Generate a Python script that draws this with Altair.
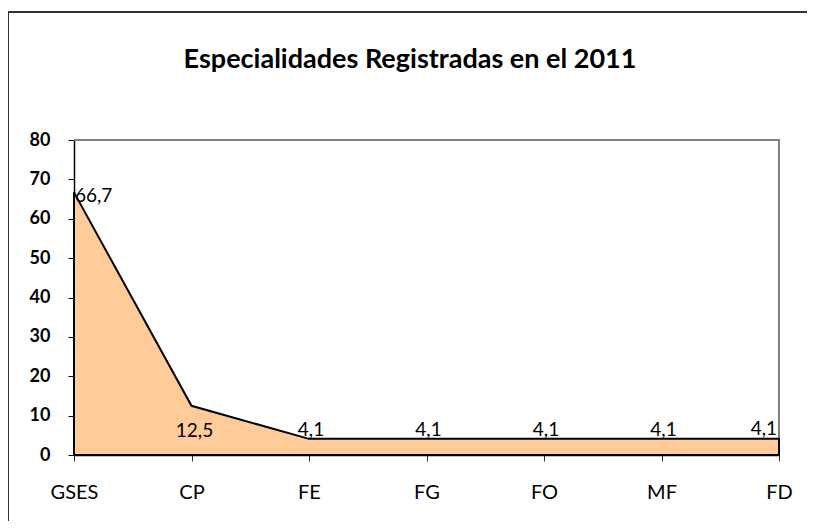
import altair as alt
import pandas as pd

categories = ["GSES", "CP", "FE", "FG", "FO", "MF", "FD"]
values = [66.7, 12.5, 4.1, 4.1, 4.1, 4.1, 4.1]
labels = ["66,7", "12,5", "4,1", "4,1", "4,1", "4,1", "4,1"]
y_ticks = [0, 10, 20, 30, 40, 50, 60, 70, 80]
title_text = "Especialidades Registradas en el 2011"

df = pd.DataFrame({"cat": categories, "val": values, "lab": labels,
                   "idx": list(range(len(categories)))})
one_df = pd.DataFrame({"t": [title_text]})

FONT = "Lato"

x_enc = alt.X("cat:N", sort=categories,
              scale=alt.Scale(type="point", padding=0),
              axis=alt.Axis(title=None, labelAngle=0, domainColor="black",
                            domainWidth=1.5, tickColor="#333", tickSize=6,
                            labelFontSize=20, labelFont=FONT, labelColor="black",
                            labelPadding=21, grid=False))
y_enc = alt.Y("val:Q", scale=alt.Scale(domain=[0, 80], nice=False),
              axis=alt.Axis(title=None, values=y_ticks, domainColor="black",
                            domainWidth=1.5, tickColor="black", tickSize=6,
                            labelFontSize=18, labelFont=FONT, labelFontWeight="bold",
                            labelColor="black", labelPadding=18, grid=False,
                            labelOverlap=False))

area = alt.Chart(df).mark_area(fill="#FFCC99", stroke="black", strokeWidth=2,
                               strokeJoin="miter").encode(x=x_enc, y=y_enc)

base = alt.Chart(df)
txt = dict(fontSize=19, font=FONT, color="black", baseline="middle")
lab_first = base.transform_filter("datum.idx == 0").mark_text(
    align="left", dx=1, dy=4, **txt).encode(x=x_enc, y=y_enc, text="lab:N")
lab_second = base.transform_filter("datum.idx == 1").mark_text(
    align="center", dx=3, dy=25, **txt).encode(x=x_enc, y=y_enc, text="lab:N")
lab_mid = base.transform_filter("datum.idx >= 2 && datum.idx <= 5").mark_text(
    align="center", dx=2, dy=-9, **txt).encode(x=x_enc, y=y_enc, text="lab:N")
lab_last = base.transform_filter("datum.idx == 6").mark_text(
    align="right", dx=-2, dy=-10, **txt).encode(x=x_enc, y=y_enc, text="lab:N")

title = alt.Chart(one_df).mark_text(
    font=FONT, fontSize=27, fontWeight="bold", color="black",
    align="center", baseline="middle").encode(
    x=alt.value(336), y=alt.value(-80), text="t:N")

border_top = alt.Chart(one_df).mark_rule(color="#808080", strokeWidth=2).encode(
    x=alt.value(0), x2=alt.value(706), y=alt.value(0))
border_right = alt.Chart(one_df).mark_rule(color="#808080", strokeWidth=2).encode(
    x=alt.value(705), y=alt.value(-1), y2=alt.value(315))

frame_top = alt.Chart(one_df).mark_rule(color="#333", strokeWidth=2).encode(
    x=alt.value(-67), x2=alt.value(800), y=alt.value(-128))
frame_left = alt.Chart(one_df).mark_rule(color="#333", strokeWidth=2).encode(
    x=alt.value(-66), y=alt.value(-129), y2=alt.value(500))

chart = alt.layer(border_top, border_right, area, lab_first, lab_second, lab_mid,
                  lab_last, title, frame_top, frame_left).properties(
    width=705, height=315,
    autosize=alt.AutoSizeParams(type="none"),
    padding={"left": 66, "top": 132, "right": 28, "bottom": 66},
).configure_view(stroke=None).configure(background="white")

chart.save("out.html", embed_options={"renderer": "svg", "actions": False})
